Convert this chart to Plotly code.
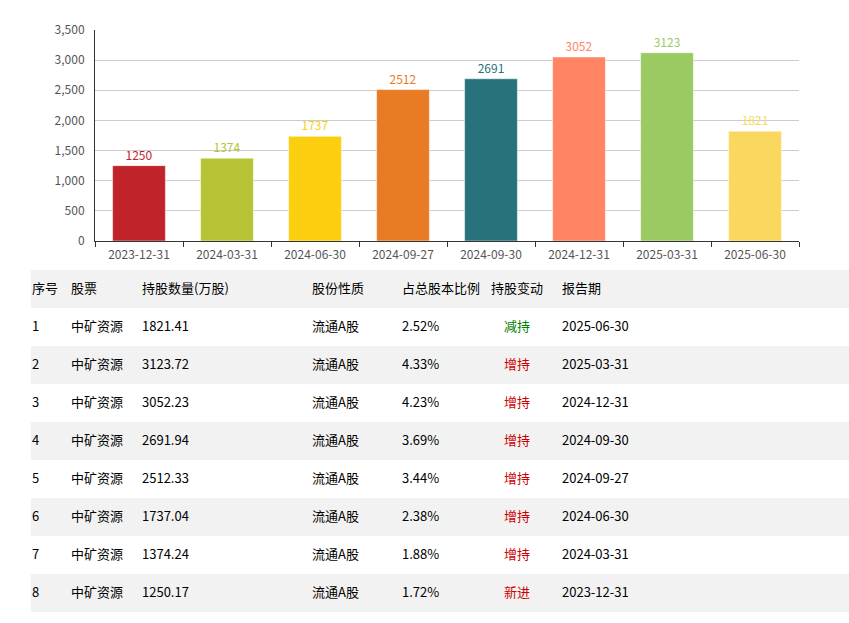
import plotly.graph_objects as go

# holdings by report date
dates = ["2023-12-31", "2024-03-31", "2024-06-30", "2024-09-27",
         "2024-09-30", "2024-12-31", "2025-03-31", "2025-06-30"]
shares = [1250, 1374, 1737, 2512, 2691, 3052, 3123, 1821]
colors = ["#C1232B", "#B5C334", "#FCCE10", "#E87C25",
          "#27727B", "#FE8463", "#9BCA63", "#FAD860"]

# table below the chart
headers = ["序号", "股票", "持股数量(万股)", "股份性质", "占总股本比例", "持股变动", "报告期"]
seq = ["1", "2", "3", "4", "5", "6", "7", "8"]
stock = ["中矿资源"] * 8
amount = ["1821.41", "3123.72", "3052.23", "2691.94", "2512.33", "1737.04", "1374.24", "1250.17"]
kind = ["流通A股"] * 8
ratio = ["2.52%", "4.33%", "4.23%", "3.69%", "3.44%", "2.38%", "1.88%", "1.72%"]
change = ["减持", "增持", "增持", "增持", "增持", "增持", "增持", "新进"]
period = ["2025-06-30", "2025-03-31", "2024-12-31", "2024-09-30",
          "2024-09-27", "2024-06-30", "2024-03-31", "2023-12-31"]

W, H = 849, 623
font = "Noto Sans CJK SC"


def py(y):
    # page pixel (from top) -> paper fraction
    return 1 - y / H


# table geometry (px): plotly pads cell text by 8px and puts it near the top,
# so the table itself sits a bit lower/left and the stripes are drawn behind it
TBL_LEFT, TBL_TOP, ROW_H = 31, 270, 38
TXT_DX, TXT_DY = 7, 5

fig = go.Figure()
fig.add_trace(go.Bar(
    x=dates, y=shares,
    marker=dict(color=colors, line=dict(color="rgba(255,255,255,0.5)", width=1)),
    text=[str(v) for v in shares], textposition="outside",
    textfont=dict(color=colors, size=12, family=font),
    cliponaxis=False, width=0.6, showlegend=False,
))

# grey stripes: header row and every second data row
n_rows = len(seq) + 1
for i in range(n_rows):
    if i % 2 == 0:
        y0 = TBL_TOP + i * ROW_H
        fig.add_shape(type="rect", xref="paper", yref="paper", layer="below",
                      x0=TBL_LEFT / W, x1=1, y0=py(y0 + ROW_H), y1=py(y0),
                      fillcolor="#f2f2f2", line_width=0)

change_col = ["#008000" if c == "减持" else "#cc0000" for c in change]
cells_font_color = [["#000"] * 8] * 5 + [change_col] + [["#000"] * 8]
tbl_top = TBL_TOP + TXT_DY
tbl_bot = tbl_top + n_rows * ROW_H
aligns = ["left", "left", "left", "left", "left", "center", "left"]

fig.add_trace(go.Table(
    domain=dict(x=[(TBL_LEFT - TXT_DX) / W, 1], y=[max(0, py(tbl_bot)), py(tbl_top)]),
    columnwidth=[39, 71, 170, 90, 86, 74, 295],
    header=dict(values=headers, fill_color="rgba(0,0,0,0)", line_width=0, height=ROW_H,
                align=aligns, font=dict(family=font, size=13, color="#000")),
    cells=dict(values=[seq, stock, amount, kind, ratio, change, period],
               fill_color="rgba(0,0,0,0)", line_width=0, height=ROW_H,
               align=aligns, font=dict(family=font, size=13, color=cells_font_color)),
))

fig.update_layout(
    width=W, height=H,
    margin=dict(l=0, r=0, t=0, b=0),
    paper_bgcolor="white", plot_bgcolor="white",
    font=dict(family=font, size=12, color="#555"),
    xaxis=dict(domain=[95 / W, 799 / W], type="category", automargin=False,
               showline=True, linecolor="#333", linewidth=1,
               ticks="outside", tickson="boundaries", ticklen=5, tickcolor="#333",
               ticklabelstandoff=3, tickfont=dict(size=12, color="#555")),
    yaxis=dict(domain=[py(241), py(30)], range=[0, 3500], automargin=False,
               tickvals=[0, 500, 1000, 1500, 2000, 2500, 3000, 3500],
               tickformat=",", showline=True, linecolor="#333", linewidth=1,
               gridcolor="#ccc", zeroline=False, ticks="", ticklabelstandoff=7,
               tickfont=dict(size=12, color="#555")),
)

fig.write_html("out.html", config={"displayModeBar": False},
               post_script="document.body.style.margin='0';")
